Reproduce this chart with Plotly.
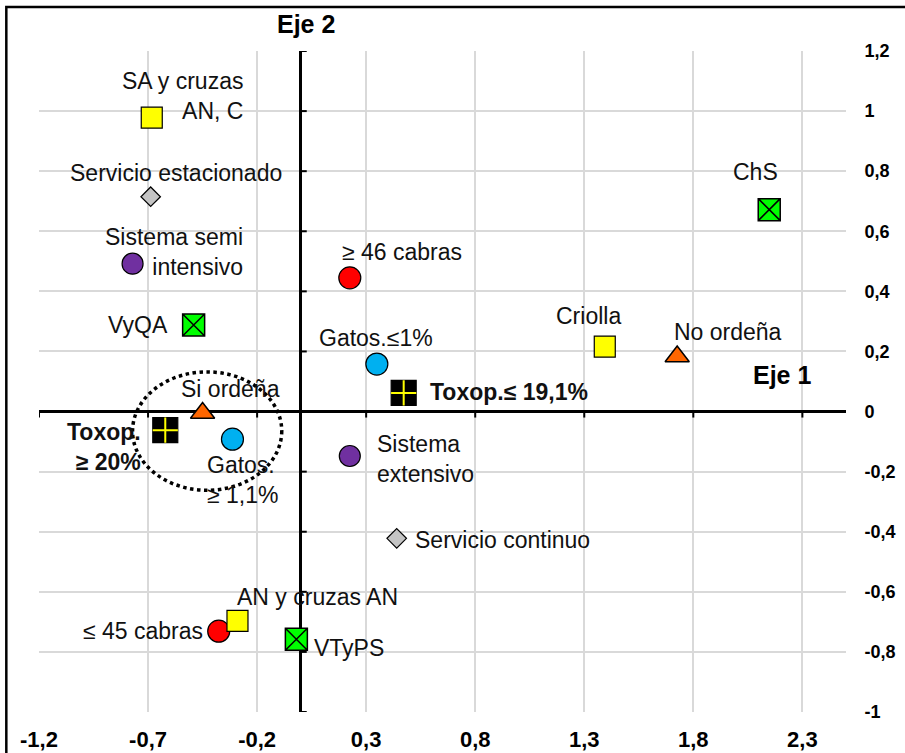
import plotly.graph_objects as go

# ---------------- data ----------------
x_tickvals = [-1.2, -0.7, -0.2, 0.3, 0.8, 1.3, 1.8, 2.3]
x_ticktext = ["-1,2", "-0,7", "-0,2", "0,3", "0,8", "1,3", "1,8", "2,3"]
y_tickvals = [-1.0, -0.8, -0.6, -0.4, -0.2, 0.0, 0.2, 0.4, 0.6, 0.8, 1.0, 1.2]
y_ticktext = ["-1", "-0,8", "-0,6", "-0,4", "-0,2", "0", "0,2", "0,4", "0,6", "0,8", "1", "1,2"]

raza_labels = ["SA y cruzas<br>AN, C", "AN y cruzas AN", "Criolla"]
raza_x = [-0.683, -0.290, 1.394]
raza_y = [0.978, -0.697, 0.216]

servicio_labels = ["Servicio estacionado", "Servicio continuo"]
servicio_x = [-0.688, 0.440]
servicio_y = [0.715, -0.422]

sistema_labels = ["Sistema semi<br>intensivo", "Sistema<br>extensivo"]
sistema_x = [-0.771, 0.225]
sistema_y = [0.492, -0.148]

region_labels = ["VyQA", "VTyPS", "ChS"]
region_x = [-0.491, -0.020, 2.148]
region_y = [0.288, -0.758, 0.672]

toxop_labels = ["Toxop.<br>≥ 20%", "Toxop.≤ 19,1%"]
toxop_x = [-0.621, 0.472]
toxop_y = [-0.062, 0.062]

ordena_labels = ["Si ordeña", "No ordeña"]
ordena_x = [-0.450, 1.726]
ordena_y = [-0.005, 0.183]

gatos_labels = ["Gatos.<br>≥ 1,1%", "Gatos.≤1%"]
gatos_x = [-0.313, 0.349]
gatos_y = [-0.092, 0.158]

cabras_labels = ["≥ 46 cabras", "≤ 45 cabras"]
cabras_x = [0.225, -0.376]
cabras_y = [0.445, -0.731]

# ---------------- label placement (pixel offsets from each marker) ----------------
label_pos = {
    "SA y cruzas<br>AN, C": (93, 22, "right", "right"),
    "AN y cruzas AN": (-2, 24, "left", "left"),
    "Criolla": (-16, 31, "center", "center"),
    "Servicio estacionado": (25, 24, "center", "center"),
    "Servicio continuo": (16, -2, "left", "left"),
    "Sistema semi<br>intensivo": (112, 12, "right", "right"),
    "Sistema<br>extensivo": (25, -3, "left", "left"),
    "VyQA": (-24, 0, "right", "right"),
    "VTyPS": (16, -9, "left", "left"),
    "ChS": (-14, 38, "center", "center"),
    "Toxop.<br>≥ 20%": (-22, -17, "right", "right"),
    "Toxop.≤ 19,1%": (24, 1, "left", "left"),
    "Si ordeña": (28, 24, "center", "center"),
    "No ordeña": (-5, 25, "left", "left"),
    "Gatos.<br>≥ 1,1%": (-27, -41, "left", "left"),
    "Gatos.≤1%": (-1, 26, "center", "center"),
    "≥ 46 cabras": (-10, 26, "left", "left"),
    "≤ 45 cabras": (-14, 0, "right", "right"),
}
bold_labels = {"Toxop.<br>≥ 20%", "Toxop.≤ 19,1%"}

# highlight ellipse (data units)
ellipse = dict(x0=-0.771, x1=-0.087, y0=-0.262, y1=0.132)

FONT = "Liberation Sans, Arial, sans-serif"

fig = go.Figure()

def add_series(xs, ys, labels, symbol, color, size, lw=1.2, lc="black"):
    fig.add_trace(go.Scatter(
        x=xs, y=ys, mode="markers", text=labels, hoverinfo="text",
        marker=dict(symbol=symbol, color=color, size=size,
                    line=dict(color=lc, width=lw)),
        showlegend=False))

add_series(servicio_x, servicio_y, servicio_labels, "diamond", "#C4C4C4", 15)
add_series(sistema_x, sistema_y, sistema_labels, "circle", "#7030A0", 21)
add_series(gatos_x, gatos_y, gatos_labels, "circle", "#00B0F0", 22)
add_series(cabras_x, cabras_y, cabras_labels, "circle", "#FF0000", 22)
add_series(raza_x, raza_y, raza_labels, "square", "#FFFF00", 21)
add_series(region_x, region_y, region_labels, "square-x", "#00FF00", 22, lw=1.5)
add_series(ordena_x, ordena_y, ordena_labels, "triangle-up", "#FF6600", 21, lw=1.5)
add_series(toxop_x, toxop_y, toxop_labels, "square", "#000000", 25)
# yellow cross inside the black squares
fig.add_trace(go.Scatter(
    x=toxop_x, y=toxop_y, mode="markers", hoverinfo="skip",
    marker=dict(symbol="cross-thin-open", size=18, color="#FFFF00",
                line=dict(color="#FFFF00", width=2)),
    showlegend=False))

# labels
all_sets = [
    (raza_x, raza_y, raza_labels), (servicio_x, servicio_y, servicio_labels),
    (sistema_x, sistema_y, sistema_labels), (region_x, region_y, region_labels),
    (toxop_x, toxop_y, toxop_labels), (ordena_x, ordena_y, ordena_labels),
    (gatos_x, gatos_y, gatos_labels), (cabras_x, cabras_y, cabras_labels),
]
for xs, ys, labs in all_sets:
    for x, y, lab in zip(xs, ys, labs):
        dx, dy, xa, al = label_pos[lab]
        txt = f"<b>{lab}</b>" if lab in bold_labels else lab
        fig.add_annotation(x=x, y=y, text=txt, showarrow=False,
                           xshift=dx, yshift=dy, xanchor=xa, align=al,
                           yanchor="middle",
                           font=dict(family=FONT, size=23, color="#111111"))

shapes = []
# axis ticks on the crossing axes
for v in y_tickvals:
    if v == 0:
        continue
    shapes.append(dict(type="line", xref="x", yref="y", xsizemode="pixel",
                       xanchor=0, x0=0, x1=6, y0=v, y1=v,
                       line=dict(color="black", width=2)))
for v in x_tickvals:
    shapes.append(dict(type="line", xref="x", yref="y", ysizemode="pixel",
                       yanchor=0, y0=0, y1=-6, x0=v, x1=v,
                       line=dict(color="black", width=2)))
# dotted highlight ellipse
shapes.append(dict(type="circle", xref="x", yref="y", **ellipse,
                   line=dict(color="black", width=3.5, dash="dot"), layer="above"))
# outer frame
shapes.append(dict(type="rect", xref="paper", yref="paper",
                   x0=-0.0405, x1=1.3, y0=-0.3, y1=1.0665,
                   line=dict(color="black", width=2.5), fillcolor="rgba(0,0,0,0)"))
fig.update_layout(shapes=shapes)

# axis titles
fig.add_annotation(x=0, xref="x", xshift=5, y=1.041, yref="paper",
                   text="<b>Eje 2</b>", showarrow=False, yanchor="middle",
                   font=dict(family=FONT, size=25, color="black"))
fig.add_annotation(x=0.959, xref="paper", y=0, yref="y", yshift=37,
                   text="<b>Eje 1</b>", showarrow=False, yanchor="middle",
                   font=dict(family=FONT, size=25, color="black"))

fig.update_xaxes(range=[-1.2, 2.5], tickvals=x_tickvals,
                 ticktext=[f"<b>{t}</b>" for t in x_ticktext],
                 showgrid=True, gridcolor="#D9D9D9", gridwidth=1.5,
                 zeroline=True, zerolinecolor="black", zerolinewidth=2.5,
                 showline=False, ticks="outside", ticklen=8,
                 tickcolor="rgba(0,0,0,0)", automargin=False,
                 tickfont=dict(family=FONT, size=22, color="black"),
                 fixedrange=True)
fig.update_yaxes(range=[-1.0, 1.2], tickvals=y_tickvals,
                 ticktext=[f"<b>{t}</b>" for t in y_ticktext],
                 side="right", showgrid=True, gridcolor="#D9D9D9", gridwidth=1.5,
                 zeroline=True, zerolinecolor="black", zerolinewidth=2.5,
                 showline=False, ticks="outside", ticklen=14,
                 tickcolor="rgba(0,0,0,0)", automargin=False,
                 tickfont=dict(family=FONT, size=18, color="black"),
                 fixedrange=True)

fig.update_layout(width=905, height=753,
                  margin=dict(l=39, r=59, t=51, b=41, autoexpand=False),
                  paper_bgcolor="white", plot_bgcolor="white",
                  showlegend=False)

fig.write_html("out.html", config={"displayModeBar": False},
               post_script="document.body.style.margin='0px';document.body.style.overflow='hidden';")
